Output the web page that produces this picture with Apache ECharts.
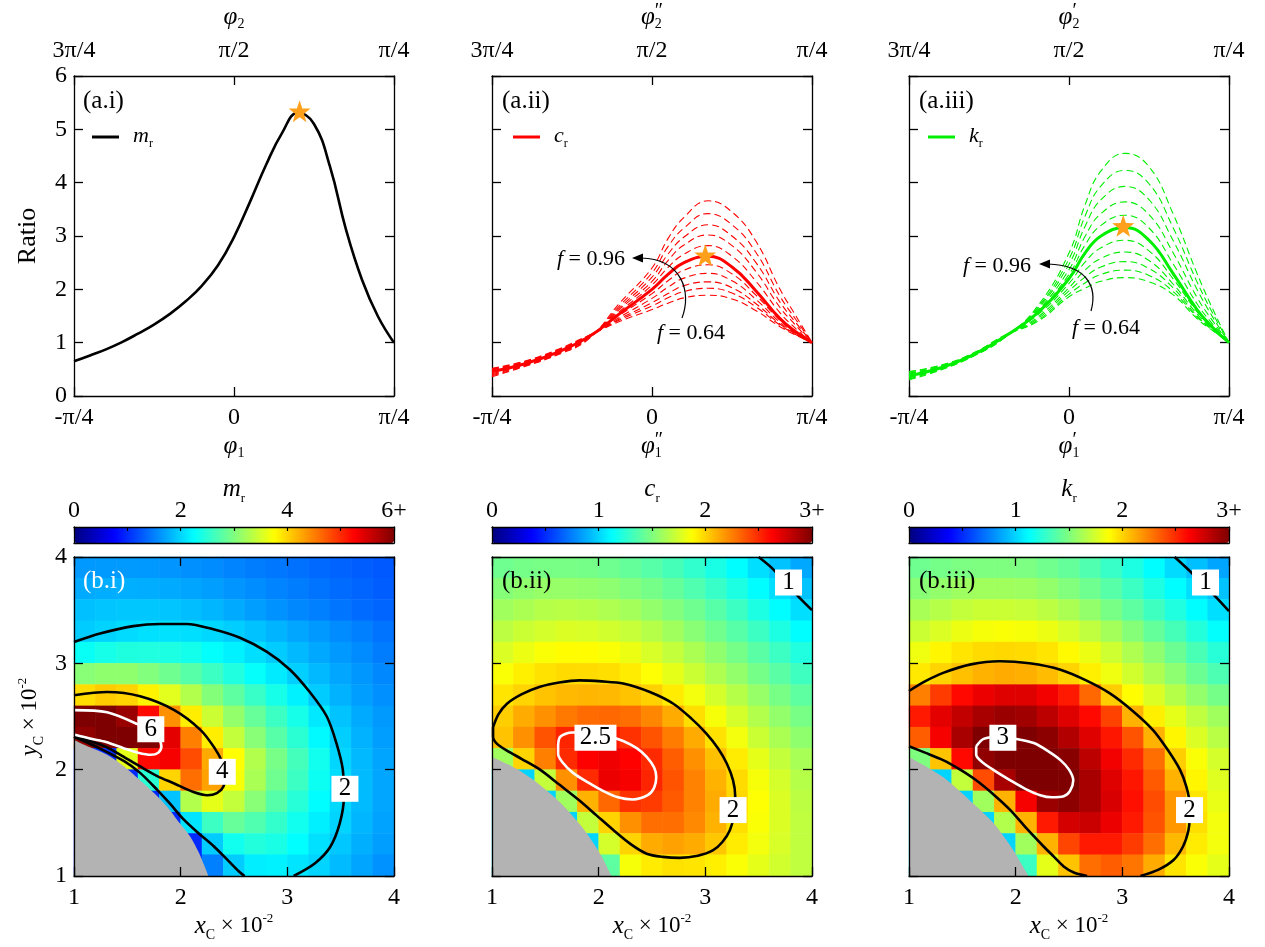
<!DOCTYPE html>
<html>
<head>
<meta charset="utf-8">
<script src="https://cdn.jsdelivr.net/npm/echarts@6/dist/echarts.min.js"></script>
<style>
  html, body { margin: 0; padding: 0; background: #fff; }
  #main { width: 1265px; height: 947px; }
</style>
</head>
<body>
<div id="main"></div>
<script>
const FONT = '"Liberation Serif", "Times New Roman", serif';

// ---- top row: ratio curves, x in units of pi/4 ----
const phiBottom = ['-π/4', '0', 'π/4'];
const phiTop = ['3π/4', 'π/2', 'π/4'];

const uM = [-1, -0.9, -0.8, -0.7, -0.6, -0.5, -0.4, -0.3, -0.2, -0.1, 0, 0.1, 0.2, 0.3, 0.4, 0.5, 0.6, 0.7, 0.8, 0.9, 1];
const mRatio = [0.65, 0.76, 0.875, 1.01, 1.17, 1.34, 1.54, 1.78, 2.07, 2.45, 2.98, 3.64, 4.33, 4.93, 5.31, 5.1, 4.3, 3.12, 2.18, 1.49, 1.0];

const uCK = [-1, -0.8, -0.6, -0.4, -0.2, 0, 0.1, 0.2, 0.35, 0.5, 0.65, 0.8, 0.9, 1];
const cSolid = [0.46, 0.60, 0.81, 1.10, 1.55, 2.00, 2.28, 2.50, 2.62, 2.42, 1.97, 1.45, 1.20, 1.00];
const cDashed = [
  [0.36, 0.55, 0.76, 1.06, 1.75, 2.40, 2.95, 3.35, 3.66, 3.45, 2.90, 2.00, 1.50, 1.00],
  [0.38, 0.56, 0.77, 1.07, 1.70, 2.31, 2.80, 3.15, 3.42, 3.21, 2.69, 1.87, 1.43, 1.00],
  [0.40, 0.57, 0.78, 1.08, 1.66, 2.23, 2.66, 2.98, 3.21, 3.00, 2.50, 1.76, 1.37, 1.00],
  [0.42, 0.58, 0.79, 1.08, 1.63, 2.15, 2.54, 2.83, 3.02, 2.82, 2.33, 1.66, 1.32, 1.00],
  [0.44, 0.59, 0.80, 1.09, 1.59, 2.08, 2.41, 2.66, 2.82, 2.62, 2.15, 1.56, 1.26, 1.00],
  [0.47, 0.61, 0.82, 1.11, 1.52, 1.92, 2.16, 2.36, 2.46, 2.29, 1.89, 1.42, 1.19, 1.00],
  [0.49, 0.62, 0.83, 1.11, 1.48, 1.83, 2.04, 2.21, 2.30, 2.16, 1.81, 1.38, 1.17, 1.00],
  [0.50, 0.63, 0.84, 1.12, 1.45, 1.75, 1.92, 2.07, 2.14, 2.03, 1.73, 1.35, 1.16, 1.00],
  [0.51, 0.64, 0.85, 1.12, 1.43, 1.69, 1.84, 1.96, 2.02, 1.93, 1.67, 1.33, 1.15, 1.00],
  [0.52, 0.65, 0.86, 1.13, 1.40, 1.62, 1.74, 1.84, 1.89, 1.82, 1.60, 1.30, 1.14, 1.00]
];
const kSolid = [0.38, 0.53, 0.77, 1.12, 1.55, 2.20, 2.68, 3.00, 3.16, 2.92, 2.30, 1.62, 1.28, 1.00];
const kDashed = [
  [0.30, 0.49, 0.74, 1.10, 1.67, 2.68, 3.58, 4.22, 4.55, 4.30, 3.42, 2.30, 1.62, 1.00],
  [0.32, 0.50, 0.75, 1.10, 1.64, 2.57, 3.37, 3.94, 4.23, 3.98, 3.16, 2.14, 1.54, 1.00],
  [0.34, 0.51, 0.75, 1.11, 1.62, 2.47, 3.18, 3.68, 3.93, 3.68, 2.92, 2.00, 1.47, 1.00],
  [0.35, 0.52, 0.76, 1.11, 1.59, 2.37, 2.99, 3.42, 3.64, 3.40, 2.69, 1.85, 1.40, 1.00],
  [0.37, 0.52, 0.77, 1.12, 1.57, 2.28, 2.83, 3.20, 3.39, 3.15, 2.48, 1.73, 1.34, 1.00],
  [0.40, 0.54, 0.78, 1.13, 1.51, 2.11, 2.51, 2.78, 2.92, 2.72, 2.20, 1.58, 1.26, 1.00],
  [0.42, 0.55, 0.78, 1.13, 1.47, 2.03, 2.36, 2.58, 2.70, 2.54, 2.10, 1.54, 1.25, 1.00],
  [0.43, 0.56, 0.79, 1.13, 1.44, 1.97, 2.23, 2.42, 2.52, 2.39, 2.03, 1.50, 1.24, 1.00],
  [0.45, 0.57, 0.80, 1.14, 1.41, 1.91, 2.12, 2.28, 2.36, 2.26, 1.96, 1.48, 1.23, 1.00],
  [0.46, 0.58, 0.80, 1.14, 1.39, 1.86, 2.02, 2.15, 2.22, 2.14, 1.90, 1.45, 1.22, 1.00]
];
const starM = [0.41, 5.34];
const starC = [0.333, 2.64];
const starK = [0.339, 3.19];

// ---- bottom row: maps over x_C, y_C (rows listed top y=3.9 to bottom y=1.1) ----
const xCells = ['1.1', '1.3', '1.5', '1.7', '1.9', '2.1', '2.3', '2.5', '2.7', '2.9', '3.1', '3.3', '3.5', '3.7', '3.9'];
const yCells = ['1.1', '1.3', '1.5', '1.7', '1.9', '2.1', '2.3', '2.5', '2.7', '2.9', '3.1', '3.3', '3.5', '3.7', '3.9'];

const mGrid = [
  [1.65, 1.66, 1.66, 1.65, 1.63, 1.60, 1.57, 1.53, 1.49, 1.45, 1.41, 1.37, 1.33, 1.30, 1.27],
  [1.75, 1.77, 1.78, 1.77, 1.75, 1.72, 1.68, 1.63, 1.58, 1.53, 1.48, 1.43, 1.38, 1.34, 1.30],
  [1.88, 1.91, 1.93, 1.93, 1.91, 1.87, 1.82, 1.76, 1.69, 1.62, 1.56, 1.50, 1.44, 1.39, 1.34],
  [1.95, 1.99, 2.04, 2.07, 2.08, 2.06, 2.02, 1.96, 1.89, 1.81, 1.73, 1.65, 1.57, 1.50, 1.43],
  [2.30, 2.38, 2.43, 2.44, 2.42, 2.36, 2.27, 2.17, 2.06, 1.95, 1.84, 1.74, 1.65, 1.57, 1.49],
  [3.05, 3.10, 3.10, 3.02, 2.90, 2.76, 2.60, 2.44, 2.28, 2.13, 1.97, 1.84, 1.73, 1.64, 1.56],
  [3.95, 4.05, 4.00, 3.82, 3.58, 3.30, 3.03, 2.80, 2.58, 2.38, 2.17, 1.95, 1.80, 1.69, 1.60],
  [6.30, 6.20, 5.85, 5.20, 4.40, 3.85, 3.45, 3.12, 2.85, 2.60, 2.38, 2.12, 1.90, 1.76, 1.66],
  [5.90, 6.40, 6.40, 6.10, 5.40, 4.50, 3.85, 3.40, 3.05, 2.76, 2.50, 2.22, 1.96, 1.80, 1.69],
  [1.00, 1.00, 3.60, 5.20, 5.30, 4.80, 4.25, 3.75, 3.30, 2.95, 2.65, 2.35, 2.01, 1.84, 1.72],
  [1.00, 1.00, 1.00, 2.50, 4.00, 4.60, 4.30, 3.70, 3.25, 2.90, 2.60, 2.32, 2.05, 1.86, 1.73],
  [1.00, 1.00, 1.00, 1.00, 1.90, 3.30, 3.60, 3.40, 3.05, 2.75, 2.48, 2.24, 2.03, 1.85, 1.73],
  [1.00, 1.00, 1.00, 1.00, 1.00, 2.10, 2.60, 2.85, 2.72, 2.55, 2.35, 2.16, 2.00, 1.83, 1.71],
  [1.00, 1.00, 1.00, 1.00, 1.00, 1.00, 1.95, 2.35, 2.45, 2.40, 2.25, 2.07, 1.92, 1.79, 1.68],
  [1.00, 1.00, 1.00, 1.00, 1.00, 1.00, 1.50, 1.95, 2.15, 2.17, 2.10, 2.00, 1.85, 1.72, 1.62]
];
const cGrid = [
  [1.45, 1.47, 1.48, 1.48, 1.47, 1.45, 1.42, 1.38, 1.33, 1.27, 1.20, 1.12, 1.03, 0.95, 0.87],
  [1.52, 1.55, 1.57, 1.57, 1.56, 1.54, 1.51, 1.47, 1.42, 1.36, 1.29, 1.21, 1.12, 1.03, 0.95],
  [1.60, 1.63, 1.66, 1.67, 1.66, 1.64, 1.61, 1.56, 1.51, 1.45, 1.38, 1.30, 1.21, 1.12, 1.03],
  [1.68, 1.72, 1.75, 1.77, 1.76, 1.74, 1.71, 1.66, 1.60, 1.53, 1.46, 1.38, 1.30, 1.21, 1.12],
  [1.77, 1.82, 1.86, 1.88, 1.88, 1.86, 1.82, 1.76, 1.70, 1.63, 1.55, 1.47, 1.39, 1.30, 1.22],
  [1.86, 1.92, 1.96, 1.98, 1.98, 1.97, 1.93, 1.87, 1.80, 1.72, 1.64, 1.56, 1.47, 1.39, 1.31],
  [1.95, 2.00, 2.05, 2.08, 2.09, 2.08, 2.05, 2.01, 1.93, 1.84, 1.75, 1.66, 1.57, 1.48, 1.40],
  [2.02, 2.12, 2.20, 2.27, 2.31, 2.32, 2.30, 2.23, 2.12, 1.97, 1.85, 1.75, 1.65, 1.56, 1.48],
  [2.05, 2.20, 2.38, 2.52, 2.56, 2.55, 2.48, 2.38, 2.26, 2.12, 1.96, 1.84, 1.72, 1.63, 1.55],
  [1.60, 2.00, 2.25, 2.50, 2.63, 2.67, 2.62, 2.50, 2.35, 2.20, 2.06, 1.93, 1.80, 1.70, 1.62],
  [1.00, 1.00, 1.70, 2.20, 2.50, 2.68, 2.65, 2.52, 2.38, 2.24, 2.10, 1.98, 1.85, 1.75, 1.66],
  [1.00, 1.00, 1.00, 1.60, 2.10, 2.32, 2.48, 2.45, 2.36, 2.24, 2.12, 1.99, 1.87, 1.77, 1.68],
  [1.00, 1.00, 1.00, 1.00, 1.70, 2.00, 2.20, 2.30, 2.30, 2.22, 2.10, 1.97, 1.86, 1.77, 1.69],
  [1.00, 1.00, 1.00, 1.00, 1.00, 1.75, 2.00, 2.12, 2.15, 2.12, 2.04, 1.93, 1.84, 1.76, 1.69],
  [1.00, 1.00, 1.00, 1.00, 1.00, 1.40, 1.85, 1.93, 1.96, 1.95, 1.92, 1.86, 1.80, 1.74, 1.69]
];
const kGrid = [
  [1.45, 1.47, 1.49, 1.50, 1.50, 1.49, 1.46, 1.42, 1.36, 1.29, 1.21, 1.12, 1.02, 0.94, 0.86],
  [1.53, 1.56, 1.59, 1.60, 1.60, 1.59, 1.56, 1.51, 1.45, 1.38, 1.30, 1.21, 1.12, 1.03, 0.95],
  [1.62, 1.66, 1.70, 1.72, 1.72, 1.71, 1.68, 1.63, 1.56, 1.48, 1.40, 1.31, 1.22, 1.12, 1.03],
  [1.72, 1.77, 1.82, 1.85, 1.86, 1.85, 1.82, 1.76, 1.69, 1.61, 1.52, 1.42, 1.33, 1.23, 1.13],
  [1.83, 1.90, 1.95, 1.98, 1.99, 1.98, 1.95, 1.89, 1.82, 1.73, 1.64, 1.54, 1.44, 1.34, 1.24],
  [1.94, 2.00, 2.06, 2.10, 2.12, 2.11, 2.07, 2.00, 1.92, 1.83, 1.74, 1.64, 1.54, 1.44, 1.35],
  [2.25, 2.45, 2.60, 2.68, 2.72, 2.72, 2.66, 2.55, 2.32, 2.02, 1.88, 1.77, 1.66, 1.56, 1.47],
  [2.55, 2.70, 2.80, 2.88, 2.92, 2.90, 2.82, 2.72, 2.60, 2.43, 2.10, 1.92, 1.80, 1.69, 1.60],
  [2.35, 2.65, 2.88, 3.00, 3.05, 3.03, 2.96, 2.85, 2.72, 2.56, 2.38, 2.10, 1.90, 1.77, 1.67],
  [1.50, 2.05, 2.60, 2.95, 3.10, 3.14, 3.08, 2.97, 2.82, 2.66, 2.50, 2.30, 2.02, 1.86, 1.75],
  [1.00, 1.00, 1.70, 2.40, 2.88, 3.10, 3.14, 3.04, 2.88, 2.72, 2.56, 2.36, 2.10, 1.90, 1.78],
  [1.00, 1.00, 1.00, 1.60, 2.10, 2.65, 2.92, 2.96, 2.88, 2.74, 2.58, 2.40, 2.18, 1.95, 1.81],
  [1.00, 1.00, 1.00, 1.00, 1.65, 2.10, 2.55, 2.75, 2.78, 2.68, 2.55, 2.38, 2.18, 1.97, 1.84],
  [1.00, 1.00, 1.00, 1.00, 1.00, 1.60, 2.10, 2.42, 2.55, 2.55, 2.45, 2.30, 2.08, 1.93, 1.84],
  [1.00, 1.00, 1.00, 1.00, 1.00, 1.30, 1.80, 2.05, 2.30, 2.35, 2.28, 2.12, 1.95, 1.86, 1.80]
];

// contour lines
const mContour2 = [[1.0,3.20],[1.244,3.28],[1.556,3.35],[1.806,3.37],[2.056,3.37],[2.306,3.32],[2.556,3.24],[2.806,3.11],[3.025,2.94],[3.21,2.73],[3.37,2.50],[3.46,2.25],[3.52,2.0],[3.53,1.74],[3.49,1.49],[3.40,1.27],[3.26,1.12],[3.06,1.0]];
const mContour2Low = [[1.0,2.31],[1.2,2.22],[1.47,2.08],[1.62,1.97],[1.78,1.81],[1.9,1.68],[2.03,1.53],[2.17,1.40],[2.31,1.28],[2.45,1.14],[2.56,1.03],[2.6,1.0]];
const mContour4 = [[1.0,2.70],[1.31,2.73],[1.62,2.69],[1.94,2.56],[2.19,2.37],[2.32,2.2],[2.39,2.07],[2.42,1.95],[2.40,1.84],[2.34,1.78],[2.25,1.76],[2.12,1.79],[1.94,1.87],[1.78,1.94],[1.62,2.03],[1.45,2.13],[1.31,2.21],[1.15,2.27],[1.0,2.31]];
const mContour6 = [[1.0,2.56],[1.31,2.54],[1.59,2.43],[1.72,2.35],[1.80,2.28],[1.82,2.22],[1.79,2.16],[1.72,2.14],[1.6,2.16],[1.47,2.20],[1.3,2.26],[1.16,2.29],[1.0,2.33]];
const mGray = [[1.0,2.28],[1.15,2.21],[1.31,2.14],[1.47,2.03],[1.62,1.90],[1.75,1.78],[1.875,1.65],[1.98,1.51],[2.09,1.37],[2.17,1.22],[2.22,1.10],[2.26,1.0]];

const cContour1 = [[3.50,4.0],[3.62,3.90],[3.75,3.76],[3.87,3.63],[4.0,3.50]];
const cContour2 = [[1.01,2.40],[1.06,2.52],[1.14,2.62],[1.28,2.71],[1.45,2.78],[1.63,2.82],[1.82,2.84],[2.03,2.83],[2.23,2.81],[2.48,2.73],[2.70,2.62],[2.87,2.48],[3.01,2.34],[3.12,2.2],[3.20,2.06],[3.26,1.9],[3.28,1.75],[3.27,1.58],[3.23,1.43],[3.16,1.32],[3.07,1.24],[2.93,1.19],[2.76,1.17],[2.6,1.18],[2.45,1.21],[2.3,1.3],[2.14,1.43],[1.98,1.57],[1.82,1.71],[1.63,1.86],[1.45,2.0],[1.28,2.1],[1.14,2.18],[1.05,2.24],[1.01,2.31],[1.01,2.40]];
const cContour25 = [[1.62,2.23],[1.64,2.31],[1.75,2.35],[1.92,2.35],[2.08,2.32],[2.23,2.27],[2.36,2.2],[2.45,2.12],[2.52,2.02],[2.54,1.93],[2.52,1.83],[2.46,1.76],[2.32,1.72],[2.18,1.74],[2.04,1.8],[1.9,1.88],[1.76,1.97],[1.66,2.07],[1.62,2.15],[1.62,2.23]];
const cGray = [[1.0,2.12],[1.15,2.05],[1.29,1.97],[1.42,1.88],[1.54,1.78],[1.66,1.67],[1.76,1.56],[1.86,1.44],[1.95,1.31],[2.03,1.18],[2.08,1.08],[2.12,1.0]];

const kContour1 = [[3.49,4.0],[3.62,3.88],[3.75,3.75],[3.88,3.62],[4.0,3.49]];
const kContour2 = [[1.0,2.74],[1.15,2.83],[1.32,2.91],[1.58,2.99],[1.85,3.02],[2.13,3.0],[2.42,2.94],[2.66,2.84],[2.88,2.72],[3.1,2.55],[3.29,2.37],[3.43,2.18],[3.54,2.0],[3.6,1.84],[3.63,1.68],[3.63,1.55],[3.62,1.43],[3.57,1.28],[3.48,1.15],[3.34,1.06],[3.17,1.0]];
const kContour2Low = [[1.0,2.22],[1.15,2.16],[1.32,2.09],[1.48,2.0],[1.63,1.90],[1.8,1.76],[1.95,1.62],[2.1,1.45],[2.26,1.28],[2.36,1.18],[2.45,1.09],[2.55,1.03],[2.67,1.0]];
const kContour3 = [[1.63,2.22],[1.7,2.29],[1.85,2.31],[2.0,2.29],[2.17,2.25],[2.31,2.17],[2.42,2.09],[2.5,2.0],[2.54,1.90],[2.51,1.8],[2.45,1.75],[2.34,1.74],[2.23,1.76],[2.09,1.82],[1.95,1.90],[1.82,1.98],[1.70,2.06],[1.63,2.14],[1.63,2.22]];
const kGray = [[1.0,2.12],[1.16,2.03],[1.32,1.93],[1.45,1.82],[1.57,1.71],[1.68,1.61],[1.79,1.50],[1.89,1.37],[1.98,1.24],[2.05,1.12],[2.12,1.0]];

const mLabels = [[1.72, 2.38, '6'], [2.39, 1.98, '4'], [3.54, 1.82, '2']];
const cLabels = [[3.78, 3.76, '1'], [1.97, 2.30, '2.5'], [3.26, 1.62, '2']];
const kLabels = [[3.78, 3.76, '1'], [1.88, 2.30, '3'], [3.63, 1.62, '2']];

const cbTicksM = {0: '0', 2: '2', 4: '4', 6: '6+'};
const cbTicksCK = {0: '0', 1: '1', 2: '2', 3: '3+'};

const JET = ['#00007f', '#0000ff', '#007fff', '#00ffff', '#7fff7f', '#ffff00', '#ff7f00', '#ff0000', '#7f0000'];
const STAR = 'path://M0,-10L2.35,-3.24L9.51,-3.09L3.8,1.24L5.88,8.09L0,4L-5.88,8.09L-3.8,1.24L-9.51,-3.09L-2.35,-3.24Z';

// ---- build option ----
const LEFTS = [74, 492, 909];
const TICK_FONT = 24;
const grids = [], xAxis = [], yAxis = [], series = [], visualMap = [], graphic = [];
const zip = (xs, ys) => xs.map((x, i) => [x, ys[i]]);

function frameAxis(extra) {
  return Object.assign({
    type: 'value', splitLine: {show: false},
    axisLine: {show: true, onZero: false, lineStyle: {color: '#000', width: 1.3}},
    axisTick: {show: true, inside: true, length: 9, lineStyle: {color: '#000', width: 1.3}},
    axisLabel: {show: false}
  }, extra);
}
function lab(extra) {
  return Object.assign({show: true, color: '#000', fontFamily: FONT, fontSize: TICK_FONT}, extra);
}

const topAx = [];
LEFTS.forEach((left, i) => {
  const g = grids.push({left: left, top: 76, width: 320, height: 320}) - 1;
  const xb = xAxis.push(frameAxis({gridIndex: g, position: 'bottom', min: -1, max: 1, interval: 1,
    axisLabel: lab({margin: 10, formatter: v => phiBottom[Math.round(v) + 1]})})) - 1;
  xAxis.push(frameAxis({gridIndex: g, position: 'top', min: -1, max: 1, interval: 1,
    axisLabel: lab({margin: 13, formatter: v => phiTop[Math.round(v) + 1]})}));
  const yl = yAxis.push(frameAxis({gridIndex: g, position: 'left', min: 0, max: 6, interval: 1,
    axisLabel: lab({show: i === 0, margin: 7})})) - 1;
  yAxis.push(frameAxis({gridIndex: g, position: 'right', min: 0, max: 6, interval: 1}));
  topAx.push([xb, yl]);
});

function addLine(ax, data, color, width, dash, z) {
  series.push({type: 'line', xAxisIndex: ax[0], yAxisIndex: ax[1], data: data, smooth: 0.45,
    showSymbol: false, silent: true, z: z,
    lineStyle: {color: color, width: width, type: dash || 'solid'}});
}
function addStar(ax, p) {
  series.push({type: 'scatter', xAxisIndex: ax[0], yAxisIndex: ax[1], data: [p], symbol: STAR,
    symbolSize: 22, itemStyle: {color: '#ffa01c', opacity: 1}, silent: true, z: 6});
}

addLine(topAx[0], zip(uM, mRatio), '#000', 2.6, null, 4);
addStar(topAx[0], starM);
cDashed.forEach(d => addLine(topAx[1], zip(uCK, d), '#ff0000', 1.1, [7, 4], 3));
addLine(topAx[1], zip(uCK, cSolid), '#ff0000', 3, null, 4);
addStar(topAx[1], starC);
kDashed.forEach(d => addLine(topAx[2], zip(uCK, d), '#00ee00', 1.1, [7, 4], 3));
addLine(topAx[2], zip(uCK, kSolid), '#00ee00', 3, null, 4);
addStar(topAx[2], starK);

// bottom maps
const fields = [mGrid, cGrid, kGrid];
const vmax = [6, 3, 3];
const cbStep = [1, 0.5, 0.5];
const cbTicks = [cbTicksM, cbTicksCK, cbTicksCK];
const grays = [mGray, cGray, kGray];
const blackContours = [[mContour2, mContour2Low, mContour4], [cContour1, cContour2], [kContour1, kContour2, kContour2Low]];
const whiteContours = [[mContour6], [cContour25], [kContour3]];
const contourLabels = [mLabels, cLabels, kLabels];

LEFTS.forEach((left, j) => {
  const gh = grids.push({left: left, top: 557, width: 320, height: 319}) - 1;
  const hx = xAxis.push({type: 'category', gridIndex: gh, data: xCells, show: false}) - 1;
  const hy = yAxis.push({type: 'category', gridIndex: gh, data: yCells, show: false}) - 1;
  const data = [];
  fields[j].forEach((row, r) => row.forEach((v, c) => data.push([c, yCells.length - 1 - r, v])));
  const si = series.push({type: 'heatmap', xAxisIndex: hx, yAxisIndex: hy, data: data, z: 1,
    silent: true, emphasis: {disabled: true}}) - 1;
  visualMap.push({type: 'continuous', seriesIndex: si, min: 0, max: vmax[j], orient: 'horizontal',
    left: left, top: 527, itemWidth: 16, itemHeight: 320, calculable: false, padding: 0,
    hoverLink: false, inRange: {color: JET}});

  const go = grids.push({left: left, top: 557, width: 320, height: 319}) - 1;
  const ox = xAxis.push(frameAxis({gridIndex: go, position: 'bottom', min: 1, max: 4, interval: 1, z: 10,
    axisLabel: lab({margin: 10})})) - 1;
  xAxis.push(frameAxis({gridIndex: go, position: 'top', min: 1, max: 4, interval: 1, z: 10}));
  const oy = yAxis.push(frameAxis({gridIndex: go, position: 'left', min: 1, max: 4, interval: 1, z: 10,
    axisLabel: lab({show: j === 0, margin: 7})})) - 1;
  yAxis.push(frameAxis({gridIndex: go, position: 'right', min: 1, max: 4, interval: 1, z: 10}));

  series.push({type: 'line', xAxisIndex: ox, yAxisIndex: oy, data: grays[j], smooth: 0.3, showSymbol: false,
    silent: true, z: 3, lineStyle: {width: 0}, areaStyle: {color: '#b3b3b3', opacity: 1, origin: 'start'}});
  blackContours[j].forEach(d => series.push({type: 'line', xAxisIndex: ox, yAxisIndex: oy, data: d,
    smooth: 0.3, showSymbol: false, silent: true, z: 4, lineStyle: {color: '#000', width: 2.6}}));
  whiteContours[j].forEach(d => series.push({type: 'line', xAxisIndex: ox, yAxisIndex: oy, data: d,
    smooth: 0.3, showSymbol: false, silent: true, z: 4, lineStyle: {color: '#fff', width: 2.6}}));
  series.push({type: 'scatter', xAxisIndex: ox, yAxisIndex: oy, silent: true, z: 5,
    data: contourLabels[j].map(l => ({name: l[2], value: [l[0], l[1]]})),
    symbol: 'rect', symbolSize: (v, p) => p.name.length > 1 ? [42, 26] : [27, 26],
    itemStyle: {color: '#fff', opacity: 1},
    label: {show: true, position: 'inside', formatter: p => p.name, color: '#000', fontFamily: FONT, fontSize: 25}});

  // colour bar frame and ticks
  const gc = grids.push({left: left, top: 527, width: 320, height: 16}) - 1;
  xAxis.push(frameAxis({gridIndex: gc, position: 'top', min: 0, max: vmax[j], interval: cbStep[j], z: 10,
    axisTick: {show: true, inside: true, length: 4, lineStyle: {color: '#000', width: 1.2}},
    axisLabel: lab({margin: 4, formatter: v => cbTicks[j][v] || ''})}));
  xAxis.push(frameAxis({gridIndex: gc, position: 'bottom', min: 0, max: vmax[j], z: 10, axisTick: {show: false}}));
  yAxis.push(frameAxis({gridIndex: gc, position: 'left', min: 0, max: 1, z: 10, axisTick: {show: false}}));
  yAxis.push(frameAxis({gridIndex: gc, position: 'right', min: 0, max: 1, z: 10, axisTick: {show: false}}));
});

// ---- text pieces ----
const mctx = document.createElement('canvas').getContext('2d');
function composite(x, y, parts, opt) {
  opt = opt || {};
  let cursor = 0, prevStart = 0, right = 0;
  const kids = parts.map(p => {
    const t = p[0], size = p[1], italic = p[2], dy = p[3], back = p[4];
    mctx.font = (italic ? 'italic ' : '') + size + 'px ' + FONT;
    const w = mctx.measureText(t).width;
    const start = back ? prevStart : cursor;
    prevStart = start; cursor = start + w; right = Math.max(right, cursor);
    return {type: 'text', x: start, y: dy, z: 100, silent: true, style: {text: t, fontSize: size,
      fontStyle: italic ? 'italic' : 'normal', fontFamily: FONT, fill: opt.color || '#000',
      align: 'left', verticalAlign: 'middle'}};
  });
  const shift = opt.anchor === 'left' ? 0 : -right / 2;
  kids.forEach(k => { k.x += shift; });
  return {type: 'group', x: x, y: y, z: 100, rotation: opt.rotation || 0, children: kids};
}

const centers = [234, 652, 1069];
const primes = ['', '″', '′'];
centers.forEach((cx, i) => {
  const p = primes[i];
  const top = p ? [['φ', 25, true, 0], [p, 20, false, -5], ['2', 14, false, 7, true]] : [['φ', 25, true, 0], ['2', 14, false, 7]];
  const bot = p ? [['φ', 25, true, 0], [p, 20, false, -5], ['1', 14, false, 7, true]] : [['φ', 25, true, 0], ['1', 14, false, 7]];
  graphic.push(composite(cx, 17, top));
  graphic.push(composite(cx, 446, bot));
  graphic.push(composite(cx, 926, [['x', 25, true, 0], ['C', 14, false, 9], [' × 10', 23, false, 0], ['-2', 13, false, -7]]));
});
graphic.push(composite(30, 717, [['y', 25, true, 0], ['C', 14, false, 9], [' × 10', 23, false, 0], ['-2', 13, false, -7]], {rotation: Math.PI / 2}));
graphic.push(composite(28, 236, [['Ratio', 26, false, 0]], {rotation: Math.PI / 2}));

const sym = ['m', 'c', 'k'];
const legendColor = ['#000', '#ff0000', '#00ee00'];
const legendX = [92, 513, 928];
sym.forEach((s, i) => {
  graphic.push(composite(centers[i], 489, [[s, 25, true, 0], ['r', 13, false, 10]]));
  graphic.push({type: 'line', z: 100, shape: {x1: legendX[i], y1: 137, x2: legendX[i] + 27, y2: 137},
    style: {stroke: legendColor[i], lineWidth: 3}});
  graphic.push(composite(legendX[i] + 41, 136, [[s, 22, true, 0], ['r', 12, false, 8]], {anchor: 'left'}));
});

const panelTags = [['(a.i)', 83, 101, '#000'], ['(a.ii)', 502, 101, '#000'], ['(a.iii)', 919, 101, '#000'],
  ['(b.i)', 83, 581, '#fff'], ['(b.ii)', 502, 581, '#000'], ['(b.iii)', 919, 581, '#000']];
panelTags.forEach(t => graphic.push(composite(t[1], t[2], [[t[0], 25, false, 0]], {anchor: 'left', color: t[3]})));

// f annotations with curved arrows
const notes = [
  {hi: [557, 259], lo: [657, 333], curve: [682, 318, 692, 292, 682, 259, 641, 258]},
  {hi: [963, 266], lo: [1072, 328], curve: [1091, 311, 1098, 286, 1086, 265, 1048, 264]}
];
notes.forEach(n => {
  graphic.push(composite(n.hi[0], n.hi[1], [['f', 22, true, 0], [' = 0.96', 22, false, 0]], {anchor: 'left'}));
  graphic.push(composite(n.lo[0], n.lo[1], [['f', 22, true, 0], [' = 0.64', 22, false, 0]], {anchor: 'left'}));
  const c = n.curve;
  graphic.push({type: 'bezierCurve', z: 100, silent: true,
    shape: {x1: c[0], y1: c[1], cpx1: c[2], cpy1: c[3], cpx2: c[4], cpy2: c[5], x2: c[6], y2: c[7]},
    style: {stroke: '#000', lineWidth: 1.2, fill: null}});
  graphic.push({type: 'polygon', z: 100, silent: true,
    shape: {points: [[c[6] - 9, c[7]], [c[6] + 2, c[7] - 4.5], [c[6] + 2, c[7] + 4.5]]},
    style: {fill: '#000'}});
});

const chart = echarts.init(document.getElementById('main'));
chart.setOption({
  animation: false,
  backgroundColor: '#fff',
  textStyle: {fontFamily: FONT},
  grid: grids, xAxis: xAxis, yAxis: yAxis,
  visualMap: visualMap, series: series, graphic: graphic
});
</script>
</body>
</html>
